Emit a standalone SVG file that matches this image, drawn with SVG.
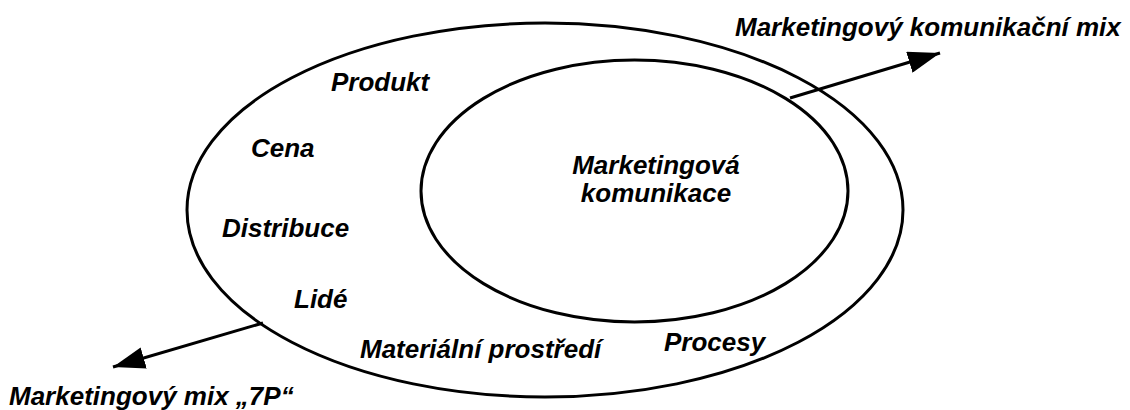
<svg xmlns="http://www.w3.org/2000/svg" width="1130" height="410" viewBox="0 0 1130 410">
  <style>
    .ring { fill: none; stroke: #000; stroke-width: 3; }
    .wire { fill: none; stroke: #000; stroke-width: 3; }
    text { font-family: "Liberation Sans", Arial, sans-serif; font-weight: bold; font-style: italic; font-size: 26px; fill: #000; }
  </style>
  <defs>
    <marker id="tip" viewBox="0 0 32 22" refX="32" refY="11" markerWidth="32" markerHeight="22" markerUnits="userSpaceOnUse" orient="auto">
      <path d="M0,0 L32,11 L0,22 z" fill="#000"/>
    </marker>
  </defs>
  <rect width="1130" height="410" fill="#fff"/>

  <!-- outer ring: the 7P marketing mix -->
  <g id="mix7p">
    <ellipse class="ring" cx="545" cy="210" rx="358" ry="187"/>
    <text x="331" y="91">Produkt</text>
    <text x="251" y="157">Cena</text>
    <text x="222" y="237">Distribuce</text>
    <text x="294" y="308">Lidé</text>
    <text x="360" y="358">Materiální prostředí</text>
    <text x="664" y="351">Procesy</text>
  </g>

  <!-- inner ring: marketing communication, two-line label -->
  <g id="komunikace">
    <ellipse class="ring" cx="634.5" cy="191" rx="213.5" ry="131"/>
    <text x="656" y="174" text-anchor="middle">Marketingová<tspan x="656" dy="28">komunikace</tspan></text>
  </g>

  <!-- outer labels -->
  <g id="label-komunikacni-mix">
    <text x="735" y="36">Marketingový komunikační mix</text>
  </g>
  <g id="label-mix-7p">
    <text x="9" y="405">Marketingový mix „7P“</text>
  </g>

  <!-- connectors -->
  <g id="connectors">
    <line class="wire" x1="790" y1="98" x2="940" y2="53" marker-end="url(#tip)"/>
    <line class="wire" x1="263" y1="323" x2="113" y2="367" marker-end="url(#tip)"/>
  </g>
</svg>
